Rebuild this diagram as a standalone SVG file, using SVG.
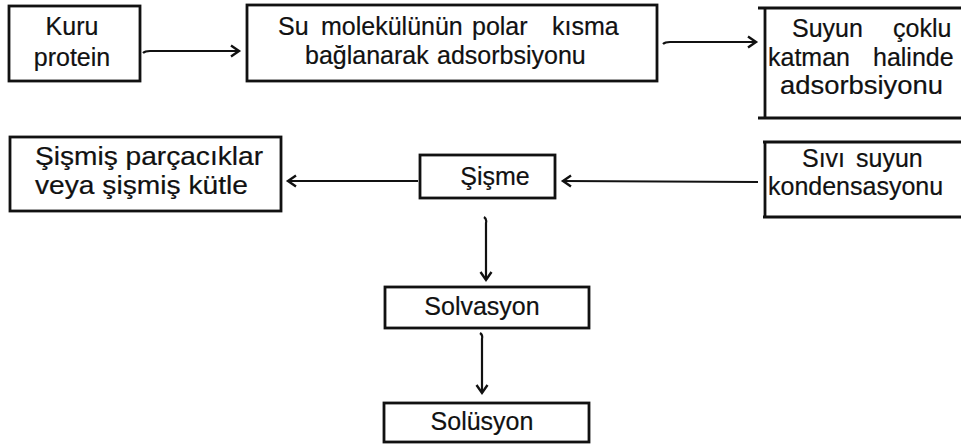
<svg xmlns="http://www.w3.org/2000/svg" width="961" height="444" viewBox="0 0 961 444">
  <defs>
    <style>
      .box { fill: none; stroke: #111; stroke-width: 2.8; }
      .lbl { font-family: "Liberation Sans", Arial, sans-serif; font-size: 25px; fill: #111; stroke: #111; stroke-width: 0.2; }
      .mid { text-anchor: middle; }
      .conn { fill: none; stroke: #111; stroke-width: 2.2; marker-end: url(#head); }
    </style>
    <marker id="head" markerWidth="12" markerHeight="14" refX="9" refY="7" orient="auto" markerUnits="userSpaceOnUse">
      <polyline points="1,1.5 9,7 1,12.5" fill="none" stroke="#111" stroke-width="2.4"/>
    </marker>
  </defs>
  <rect width="961" height="444" fill="#fff"/>

  <g id="connectors">
    <path class="conn" d="M143,53 Q145,51 150,51 L239,51"/>
    <path class="conn" d="M663,44 Q665,42 670,42 L756,42"/>
    <path class="conn" d="M418,181 L288,181"/>
    <path class="conn" d="M758,182 L563,181"/>
    <path class="conn" d="M484,217 Q487,219 486,223 L486,280"/>
    <path class="conn" d="M480,333 Q483,335 482,339 L482,393"/>
  </g>

  <g id="kuru-protein">
    <rect class="box" x="9" y="6" width="131" height="75"/>
    <text class="lbl mid" x="72" y="35">Kuru</text>
    <text class="lbl mid" x="72" y="66">protein</text>
  </g>

  <g id="polar-adsorbsiyon">
    <rect class="box" x="247" y="5" width="410" height="76"/>
    <text class="lbl" y="35"><tspan x="278">Su</tspan><tspan x="321">molekülünün</tspan><tspan x="472">polar</tspan><tspan x="552">kısma</tspan></text>
    <text class="lbl" y="64"><tspan x="305">bağlanarak</tspan><tspan x="437">adsorbsiyonu</tspan></text>
  </g>

  <g id="cok-katman">
    <path class="box" d="M758,8 L963,8 M765,8 L765,118 M758,118 L963,118"/>
    <text class="lbl" y="37"><tspan x="792">Suyun</tspan><tspan x="893">çoklu</tspan></text>
    <text class="lbl" y="66"><tspan x="768">katman</tspan><tspan x="873">halinde</tspan></text>
    <text class="lbl" x="780" y="94" textLength="163" lengthAdjust="spacingAndGlyphs">adsorbsiyonu</text>
  </g>

  <g id="sismis-kutle">
    <rect class="box" x="10" y="137" width="271" height="74"/>
    <text class="lbl" x="35" y="165" textLength="228" lengthAdjust="spacingAndGlyphs">Şişmiş parçacıklar</text>
    <text class="lbl" x="35" y="194" textLength="213" lengthAdjust="spacingAndGlyphs">veya şişmiş kütle</text>
  </g>

  <g id="sisme">
    <rect class="box" x="420" y="155" width="135" height="43"/>
    <text class="lbl mid" x="495" y="185">Şişme</text>
  </g>

  <g id="sivi-su">
    <path class="box" d="M763,142 L963,142 M765,142 L765,217 M763,217 L963,217"/>
    <text class="lbl" y="167"><tspan x="802">Sıvı</tspan><tspan x="856">suyun</tspan></text>
    <text class="lbl" x="768" y="195">kondensasyonu</text>
  </g>

  <g id="solvasyon">
    <rect class="box" x="385" y="287" width="204" height="41"/>
    <text class="lbl mid" x="482" y="315">Solvasyon</text>
  </g>

  <g id="solusyon">
    <rect class="box" x="384" y="403" width="205" height="39"/>
    <text class="lbl mid" x="482" y="430">Solüsyon</text>
  </g>
</svg>
